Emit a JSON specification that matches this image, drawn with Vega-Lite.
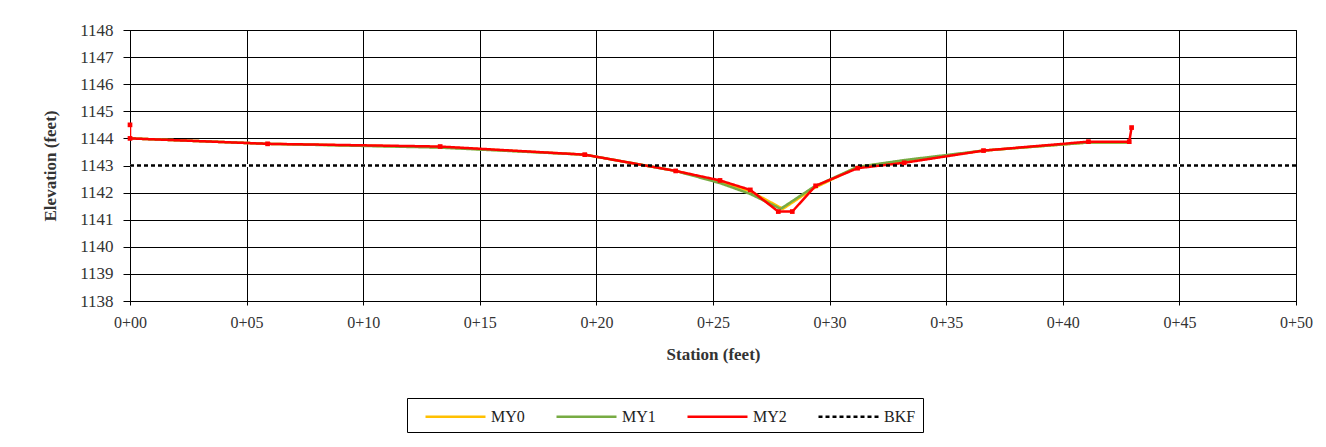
{
  "$schema": "https://vega.github.io/schema/vega-lite/v6.json",
  "width": 1166,
  "height": 271,
  "autosize": "none",
  "padding": {"left": 130, "top": 30, "right": 30, "bottom": 146},
  "background": "white",
  "config": {
    "font": "Liberation Serif",
    "view": {"stroke": "black", "strokeWidth": 1},
    "axis": {
      "gridColor": "black",
      "gridOpacity": 1,
      "gridWidth": 1,
      "domainColor": "black",
      "tickColor": "black",
      "labelColor": "#333333",
      "titleColor": "#333333",
      "labelFont": "Liberation Serif",
      "titleFont": "Liberation Serif"
    }
  },
  "data": {
    "values": [
      {"series": "MY0", "station": 0, "elev": 1144.0},
      {"series": "MY0", "station": 5.9, "elev": 1143.8},
      {"series": "MY0", "station": 13.3, "elev": 1143.68},
      {"series": "MY0", "station": 19.5, "elev": 1143.4},
      {"series": "MY0", "station": 23.4, "elev": 1142.8},
      {"series": "MY0", "station": 25.3, "elev": 1142.4},
      {"series": "MY0", "station": 26.6, "elev": 1142.05},
      {"series": "MY0", "station": 28.0, "elev": 1141.4},
      {"series": "MY0", "station": 29.3, "elev": 1142.15},
      {"series": "MY0", "station": 31.2, "elev": 1142.95},
      {"series": "MY0", "station": 33.2, "elev": 1143.15},
      {"series": "MY0", "station": 36.6, "elev": 1143.55},
      {"series": "MY0", "station": 41.1, "elev": 1143.85},
      {"series": "MY0", "station": 42.8, "elev": 1143.85},
      {"series": "MY1", "station": 0, "elev": 1144.0},
      {"series": "MY1", "station": 5.9, "elev": 1143.8},
      {"series": "MY1", "station": 13.3, "elev": 1143.66},
      {"series": "MY1", "station": 19.5, "elev": 1143.4},
      {"series": "MY1", "station": 23.4, "elev": 1142.8},
      {"series": "MY1", "station": 25.3, "elev": 1142.35},
      {"series": "MY1", "station": 26.6, "elev": 1141.95},
      {"series": "MY1", "station": 27.9, "elev": 1141.4},
      {"series": "MY1", "station": 29.3, "elev": 1142.2},
      {"series": "MY1", "station": 31.2, "elev": 1142.95},
      {"series": "MY1", "station": 33.2, "elev": 1143.2},
      {"series": "MY1", "station": 36.6, "elev": 1143.55},
      {"series": "MY1", "station": 41.1, "elev": 1143.85},
      {"series": "MY1", "station": 42.8, "elev": 1143.85},
      {"series": "MY2", "station": 0, "elev": 1144.5},
      {"series": "MY2", "station": 0, "elev": 1144.0},
      {"series": "MY2", "station": 5.9, "elev": 1143.8},
      {"series": "MY2", "station": 13.3, "elev": 1143.7},
      {"series": "MY2", "station": 19.5, "elev": 1143.4},
      {"series": "MY2", "station": 23.4, "elev": 1142.8},
      {"series": "MY2", "station": 25.3, "elev": 1142.45},
      {"series": "MY2", "station": 26.6, "elev": 1142.1},
      {"series": "MY2", "station": 27.8, "elev": 1141.3},
      {"series": "MY2", "station": 28.4, "elev": 1141.3},
      {"series": "MY2", "station": 29.4, "elev": 1142.25},
      {"series": "MY2", "station": 31.2, "elev": 1142.9},
      {"series": "MY2", "station": 33.2, "elev": 1143.1},
      {"series": "MY2", "station": 36.6, "elev": 1143.55},
      {"series": "MY2", "station": 41.1, "elev": 1143.88},
      {"series": "MY2", "station": 42.85, "elev": 1143.88},
      {"series": "MY2", "station": 42.95, "elev": 1144.4},
      {"series": "BKF", "station": 0, "elev": 1143.0},
      {"series": "BKF", "station": 50, "elev": 1143.0}
    ]
  },
  "encoding": {
    "x": {
      "field": "station", "type": "quantitative",
      "scale": {"domain": [0, 50], "nice": false, "zero": false},
      "axis": {
        "values": [0, 5, 10, 15, 20, 25, 30, 35, 40, 45, 50],
        "tickCount": 20,
        "labelExpr": "'0+' + (datum.value < 10 ? '0' : '') + datum.value",
        "labelFlush": false, "labelOverlap": false,
        "title": "Station  (feet)",
        "titleFontSize": 17, "titleFontWeight": "bold", "titlePadding": 16,
        "labelFontSize": 16, "labelPadding": 9, "tickSize": 4,
        "grid": true
      }
    },
    "y": {
      "field": "elev", "type": "quantitative",
      "scale": {"domain": [1138, 1148], "nice": false, "zero": false},
      "axis": {
        "values": [1138, 1139, 1140, 1141, 1142, 1143, 1144, 1145, 1146, 1147, 1148],
        "tickCount": 20,
        "format": "d", "labelOverlap": false, "labelFlush": false,
        "title": "Elevation  (feet)",
        "titleFontSize": 17, "titleFontWeight": "bold", "titlePadding": 20,
        "labelFontSize": 17, "labelPadding": 10, "tickSize": 7,
        "grid": true
      }
    }
  },
  "layer": [
    {
      "transform": [{"filter": "datum.series === 'BKF'"}],
      "mark": {"type": "line", "clip": true, "color": "white", "strokeWidth": 3}
    },
    {
      "mark": {"type": "line", "clip": true},
      "encoding": {
        "color": {
          "field": "series", "type": "nominal",
          "scale": {"domain": ["MY0", "MY1", "MY2", "BKF"], "range": ["#FFC000", "#77AB43", "#FF0000", "#000000"]},
          "legend": {
            "title": " ", "titleOrient": "left", "titlePadding": 10,
            "orient": "none", "legendX": 277, "legendY": 368,
            "direction": "horizontal", "columns": 4,
            "strokeColor": "black", "padding": 7,
            "symbolType": "M-1,0H5", "symbolSize": 400, "symbolStrokeWidth": 2.5,
            "labelFontSize": 16, "labelColor": "#222222", "labelFont": "Liberation Serif",
            "columnPadding": 26, "labelOffset": 44
          }
        },
        "strokeDash": {
          "field": "series", "type": "nominal",
          "scale": {"domain": ["MY0", "MY1", "MY2", "BKF"], "range": [[1, 0], [1, 0], [1, 0], [4, 3]]},
          "legend": null
        },
        "strokeWidth": {
          "field": "series", "type": "nominal",
          "scale": {"domain": ["MY0", "MY1", "MY2", "BKF"], "range": [2.5, 2.5, 3, 2]},
          "legend": null
        }
      }
    },
    {
      "transform": [{"filter": "datum.series === 'MY2'"}],
      "mark": {"type": "point", "shape": "square", "filled": true, "size": 22, "color": "#FF0000", "opacity": 1}
    }
  ]
}
